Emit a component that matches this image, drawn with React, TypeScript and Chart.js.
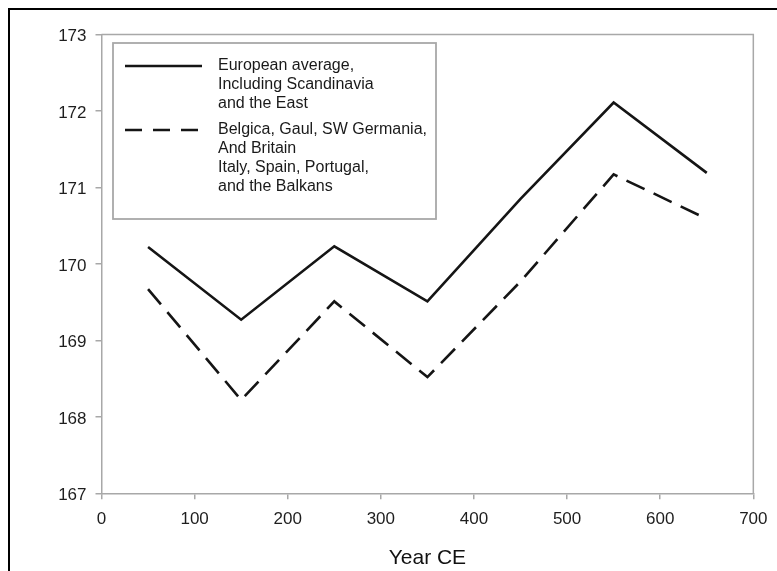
import React, { useEffect, useRef } from "react";
import { Chart, registerables } from "chart.js";

Chart.register(...registerables);

const years = [50, 150, 250, 350, 450, 550, 650];
const europeanAvg = [170.22, 169.27, 170.23, 169.51, 170.85, 172.11, 171.19];
const westSouth = [169.67, 168.22, 169.51, 168.52, 169.77, 171.17, 170.59];
const europeanLabel = ["European average,", "Including Scandinavia", "and the East"];
const westSouthLabel = ["Belgica, Gaul, SW Germania,", "And Britain", "Italy, Spain, Portugal,", "and the Balkans"];
const xTitle = "Year CE";

const FONT = "'Liberation Sans', Arial, Helvetica, sans-serif";
const GRAY = "#a8a8a8";
const INK = "#151515";

const framePlugin = {
  id: "frame",
  afterDraw(chart: any) {
    const { ctx, chartArea } = chart;
    ctx.save();
    ctx.strokeStyle = GRAY;
    ctx.lineWidth = 1.5;
    ctx.beginPath();
    ctx.moveTo(chartArea.left, chartArea.top);
    ctx.lineTo(chartArea.right, chartArea.top);
    ctx.lineTo(chartArea.right, chartArea.bottom);
    ctx.stroke();
    ctx.restore();
  },
};

const legendPlugin = {
  id: "customLegend",
  afterDraw(chart: any) {
    const { ctx } = chart;
    const bx = 113, by = 43, bw = 323, bh = 176;
    ctx.save();
    ctx.fillStyle = "#ffffff";
    ctx.fillRect(bx, by, bw, bh);
    ctx.strokeStyle = GRAY;
    ctx.lineWidth = 1.8;
    ctx.strokeRect(bx, by, bw, bh);
    const entries = [
      { ds: chart.data.datasets[0], lineY: 66, firstBase: 69.5, sampleEnd: 202 },
      { ds: chart.data.datasets[1], lineY: 130, firstBase: 133.5, sampleEnd: 198 },
    ];
    entries.forEach((e) => {
      ctx.strokeStyle = e.ds.borderColor;
      ctx.lineWidth = 2.6;
      ctx.setLineDash(e.ds.borderDash && e.ds.borderDash.length ? [17, 11] : []);
      ctx.beginPath();
      ctx.moveTo(125, e.lineY);
      ctx.lineTo(e.sampleEnd, e.lineY);
      ctx.stroke();
      ctx.setLineDash([]);
      ctx.fillStyle = "#1a1a1a";
      ctx.font = `16px ${FONT}`;
      ctx.textBaseline = "alphabetic";
      ctx.textAlign = "left";
      (e.ds.labelLines as string[]).forEach((t, i) => {
        ctx.fillText(t, 218, e.firstBase + i * 19.2);
      });
    });
    ctx.restore();
  },
};

export default function App() {
  const ref = useRef<HTMLCanvasElement>(null);
  useEffect(() => {
    if (!ref.current) return;
    const chart = new Chart(ref.current, {
      type: "line",
      data: {
        datasets: [
          {
            label: europeanLabel.join(" "),
            labelLines: europeanLabel,
            data: years.map((x, i) => ({ x, y: europeanAvg[i] })),
            borderColor: INK,
            borderWidth: 2.6,
            pointRadius: 0,
            tension: 0,
            fill: false,
          } as any,
          {
            label: westSouthLabel.join(" "),
            labelLines: westSouthLabel,
            data: years.map((x, i) => ({ x, y: westSouth[i] })),
            borderColor: INK,
            borderWidth: 2.6,
            borderDash: [20, 10],
            pointRadius: 0,
            tension: 0,
            fill: false,
          } as any,
        ],
      },
      options: {
        animation: false,
        responsive: false,
        devicePixelRatio: 1,
        layout: { padding: { left: 0, top: 34.5, right: 22, bottom: 0 } },
        plugins: { legend: { display: false }, tooltip: { enabled: false } },
        scales: {
          x: {
            type: "linear",
            min: 0,
            max: 700,
            ticks: { stepSize: 100, color: "#1e1e1e", font: { size: 17, family: FONT }, padding: 9.5 },
            grid: { drawOnChartArea: false, drawTicks: true, tickLength: 6, color: GRAY, lineWidth: 1.5 },
            border: { color: GRAY, width: 1.5 },
            title: { display: true, text: xTitle, color: "#111", font: { size: 21, family: FONT }, padding: { top: 0, bottom: 0 } },
            afterFit(scale: any) {
              scale.height = 77.7;
            },
          },
          y: {
            type: "linear",
            min: 167,
            max: 173,
            ticks: { stepSize: 1, color: "#1e1e1e", font: { size: 17, family: FONT }, padding: 9, labelOffset: 2 },
            grid: { drawOnChartArea: false, drawTicks: true, tickLength: 6, color: GRAY, lineWidth: 1.5 },
            border: { color: GRAY, width: 1.5 },
            afterFit(scale: any) {
              scale.width = 101.5;
            },
          },
        },
      } as any,
      plugins: [framePlugin, legendPlugin],
    });
    return () => chart.destroy();
  }, []);

  return (
    <div style={{ position: "absolute", left: 0, top: 0, width: 777, height: 571, overflow: "hidden", background: "#fff" }}>
      <canvas ref={ref} width={777} height={571} style={{ position: "absolute", left: 0, top: 0, width: 777, height: 571 }} />
      <div
        style={{
          position: "absolute",
          left: 8,
          top: 8,
          width: 800,
          height: 600,
          borderLeft: "2px solid #000",
          borderTop: "2px solid #000",
          pointerEvents: "none",
        }}
      />
    </div>
  );
}
